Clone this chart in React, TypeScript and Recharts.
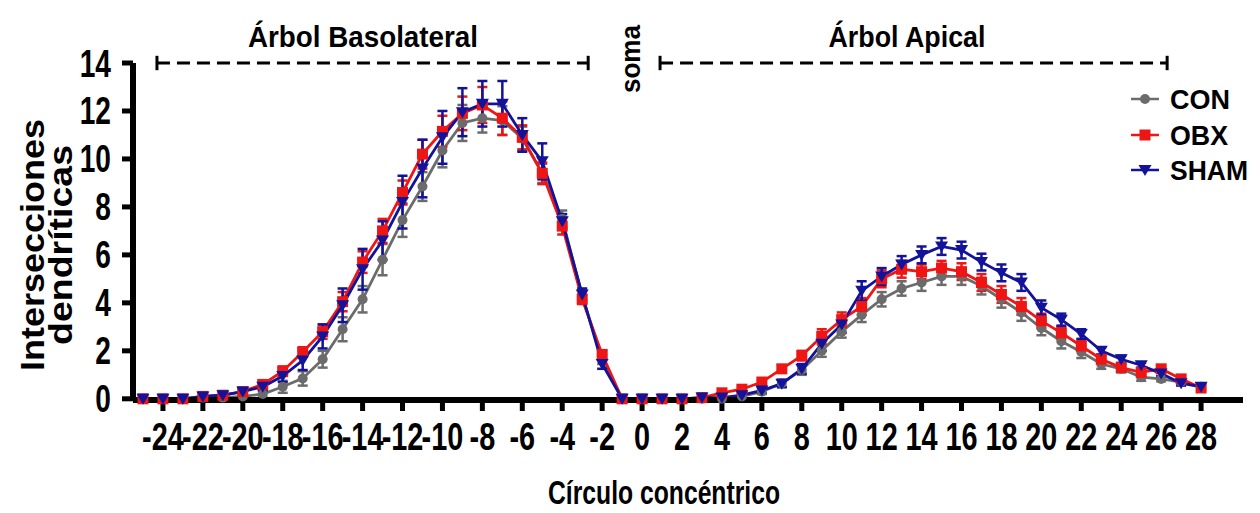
import React from "react";
import { LineChart, Line, XAxis, YAxis, ErrorBar, ReferenceLine } from "recharts";

// concentric circle index (negative = basal tree, positive = apical tree)
const circles = [
  -25, -24, -23, -22, -21, -20, -19, -18, -17, -16, -15, -14, -13, -12, -11, -10, -9, -8, -7, -6, -5, -4, -3, -2, -1,
  0, 1, 2, 3, 4, 5, 6, 7, 8, 9, 10, 11, 12, 13, 14, 15, 16, 17, 18, 19, 20, 21, 22, 23, 24, 25, 26, 27, 28,
];

const con = [
  0, 0, 0, 0.05, 0.05, 0.1, 0.2, 0.5, 0.85, 1.65, 2.9, 4.15, 5.8, 7.45, 8.85, 10.35, 11.5, 11.7, 11.6, 10.85, 9.4, 7.5, 4.3, 1.65, 0,
  0, 0, 0, 0, 0, 0.1, 0.3, 0.65, 1.2, 2.0, 2.8, 3.5, 4.15, 4.6, 4.85, 5.1, 5.1, 4.7, 4.15, 3.6, 2.95, 2.4, 1.95, 1.45, 1.25, 0.9, 0.83, 0.7, 0.5,
];
const conErr = [
  0, 0, 0, 0.05, 0.05, 0.1, 0.15, 0.25, 0.3, 0.35, 0.5, 0.55, 0.65, 0.7, 0.6, 0.7, 0.75, 0.6, 0.6, 0.5, 0.4, 0.35, 0.25, 0.2, 0,
  0, 0, 0, 0, 0.05, 0.05, 0.1, 0.15, 0.2, 0.25, 0.25, 0.3, 0.3, 0.3, 0.35, 0.35, 0.35, 0.35, 0.35, 0.35, 0.3, 0.3, 0.25, 0.2, 0.15, 0.15, 0.1, 0.1, 0.1,
];

const obx = [
  0, 0, 0, 0.1, 0.15, 0.3, 0.6, 1.15, 1.95, 2.8, 4.05, 5.7, 7.0, 8.6, 10.2, 11.15, 11.9, 12.25, 11.7, 10.9, 9.4, 7.2, 4.15, 1.85, 0,
  0, 0, 0, 0.05, 0.25, 0.4, 0.7, 1.25, 1.8, 2.6, 3.3, 3.85, 5.0, 5.4, 5.3, 5.45, 5.3, 4.85, 4.35, 3.85, 3.25, 2.75, 2.2, 1.65, 1.3, 1.1, 1.25, 0.83, 0.45,
];
const obxErr = [
  0, 0, 0, 0.05, 0.05, 0.1, 0.15, 0.2, 0.2, 0.3, 0.4, 0.45, 0.5, 0.5, 0.6, 0.65, 0.7, 0.75, 0.7, 0.5, 0.45, 0.35, 0.2, 0.15, 0,
  0, 0, 0, 0.05, 0.05, 0.1, 0.1, 0.15, 0.2, 0.3, 0.3, 0.35, 0.35, 0.35, 0.3, 0.3, 0.35, 0.35, 0.35, 0.35, 0.3, 0.25, 0.2, 0.15, 0.15, 0.1, 0.1, 0.1, 0.1,
];

const sham = [
  0, 0, 0, 0.1, 0.15, 0.3, 0.5, 0.95, 1.6, 2.6, 3.9, 5.4, 6.6, 8.2, 9.6, 10.9, 11.95, 12.3, 12.3, 11.0, 9.9, 7.4, 4.35, 1.45, 0,
  0, 0, 0, 0.05, 0.05, 0.15, 0.35, 0.63, 1.25, 2.3, 3.1, 4.5, 5.1, 5.6, 6.0, 6.35, 6.2, 5.7, 5.25, 4.85, 3.8, 3.3, 2.7, 2.0, 1.65, 1.4, 1.05, 0.65, 0.5,
];
const shamErr = [
  0, 0, 0, 0.05, 0.05, 0.1, 0.15, 0.25, 0.4, 0.5, 0.7, 0.85, 0.8, 1.1, 1.2, 1.1, 1.0, 0.95, 0.95, 0.7, 0.75, 0.3, 0.25, 0.2, 0,
  0, 0, 0, 0.05, 0.05, 0.1, 0.1, 0.15, 0.2, 0.3, 0.35, 0.4, 0.35, 0.35, 0.35, 0.35, 0.35, 0.35, 0.35, 0.35, 0.3, 0.25, 0.2, 0.15, 0.15, 0.1, 0.1, 0.1, 0.1,
];

const xTicks = [-24, -22, -20, -18, -16, -14, -12, -10, -8, -6, -4, -2, 0, 2, 4, 6, 8, 10, 12, 14, 16, 18, 20, 22, 24, 26, 28];
const yTicks = [0, 2, 4, 6, 8, 10, 12, 14];

// dashed brackets over the two dendritic trees
const brackets = [
  { from: -24.3, to: -2.7 },
  { from: 0.9, to: 26.3 },
];

const GREY = "#6b6b6b";
const RED = "#ee1515";
const BLUE = "#12129a";
const FONT = "'Liberation Sans', Arial, sans-serif";

const data = circles.map((c, i) => ({
  c,
  con: con[i],
  conErr: conErr[i],
  obx: obx[i],
  obxErr: obxErr[i],
  sham: sham[i],
  shamErr: shamErr[i],
}));

const CircleDot = (p: any) =>
  p.cx == null ? null : <circle key={`c-${p.index}`} cx={p.cx} cy={p.cy} r={5} fill={GREY} />;

const SquareDot = (p: any) =>
  p.cx == null ? null : (
    <rect key={`s-${p.index}`} x={p.cx - 5.5} y={p.cy - 5.5} width={11} height={11} fill={RED} />
  );

const TriDot = (p: any) =>
  p.cx == null ? null : (
    <path
      key={`t-${p.index}`}
      d={`M${p.cx - 6.5},${p.cy - 5} L${p.cx + 6.5},${p.cy - 5} L${p.cx},${p.cy + 6} Z`}
      fill={BLUE}
    />
  );

const XTick = ({ x, y, payload }: any) => (
  <g transform={`translate(${x},${y + 37})`}>
    <text transform="scale(0.74,1)" textAnchor="middle" fontSize={39} fontWeight="bold" fontFamily={FONT} fill="#000">
      {payload.value}
    </text>
  </g>
);

const YTick = ({ x, y, payload }: any) => (
  <g transform={`translate(${x - 9},${y + 13.5})`}>
    <text transform="scale(0.74,1)" textAnchor="end" fontSize={38} fontWeight="bold" fontFamily={FONT} fill="#000">
      {payload.value}
    </text>
  </g>
);

const legendItems = [
  { name: "CON", color: GREY, y: 99, len: 60, Dot: CircleDot },
  { name: "OBX", color: RED, y: 135, len: 58, Dot: SquareDot },
  { name: "SHAM", color: BLUE, y: 170, len: 78, Dot: TriDot },
];

export default function App() {
  return (
    <div style={{ position: "absolute", left: 0, top: 0, width: 1260, height: 513, background: "#fff" }}>
      <LineChart width={1260} height={513} data={data} margin={{ top: 63, right: 17, left: 33, bottom: 53 }}>
        <XAxis
          type="number"
          dataKey="c"
          domain={[-25.5, 30.1]}
          ticks={xTicks}
          interval={0}
          allowDataOverflow
          height={60}
          tickSize={11}
          tickLine={{ stroke: "#000", strokeWidth: 5 }}
          axisLine={{ stroke: "#000", strokeWidth: 6 }}
          tick={<XTick />}
        />
        <YAxis
          type="number"
          domain={[0, 14]}
          ticks={yTicks}
          interval={0}
          width={100}
          tickSize={11}
          tickLine={{ stroke: "#000", strokeWidth: 5 }}
          axisLine={{ stroke: "#000", strokeWidth: 6 }}
          tick={<YTick />}
        />
        {brackets.map((b, i) => (
          <ReferenceLine
            key={`b-${i}`}
            segment={[{ x: b.from, y: 14 }, { x: b.to, y: 14 }]}
            stroke="#000"
            strokeWidth={3}
            strokeDasharray="13 7"
            ifOverflow="visible"
          />
        ))}
        {brackets.flatMap((b, i) =>
          [b.from, b.to].map((x, j) => (
            <ReferenceLine
              key={`cap-${i}-${j}`}
              segment={[{ x, y: 13.7 }, { x, y: 14.3 }]}
              stroke="#000"
              strokeWidth={3}
              ifOverflow="visible"
            />
          ))
        )}
        <Line dataKey="con" stroke={GREY} strokeWidth={2.8} dot={CircleDot} isAnimationActive={false}>
          <ErrorBar dataKey="conErr" direction="y" width={5} stroke={GREY} strokeWidth={2.5} />
        </Line>
        <Line dataKey="obx" stroke={RED} strokeWidth={2.8} dot={SquareDot} isAnimationActive={false}>
          <ErrorBar dataKey="obxErr" direction="y" width={5} stroke={RED} strokeWidth={2.5} />
        </Line>
        <Line dataKey="sham" stroke={BLUE} strokeWidth={2.8} dot={TriDot} isAnimationActive={false}>
          <ErrorBar dataKey="shamErr" direction="y" width={5} stroke={BLUE} strokeWidth={2.5} />
        </Line>
      </LineChart>

      <svg
        width={1260}
        height={513}
        style={{ position: "absolute", left: 0, top: 0, pointerEvents: "none" }}
        fontFamily={FONT}
        fontWeight="bold"
      >
        <text x={363} y={47} textAnchor="middle" fontSize={29} textLength={230} lengthAdjust="spacingAndGlyphs">
          Árbol Basolateral
        </text>
        <text x={907} y={47} textAnchor="middle" fontSize={29} textLength={157} lengthAdjust="spacingAndGlyphs">
          Árbol Apical
        </text>
        <text transform="translate(640,59) rotate(-90)" textAnchor="middle" fontSize={28} textLength={68} lengthAdjust="spacingAndGlyphs">
          soma
        </text>
        <text transform="translate(44,245) scale(0.9,1) rotate(-90)" textAnchor="middle" fontSize={36} textLength={252} lengthAdjust="spacingAndGlyphs">
          Intersecciones
        </text>
        <text transform="translate(72,245) scale(0.9,1) rotate(-90)" textAnchor="middle" fontSize={36} textLength={200} lengthAdjust="spacingAndGlyphs">
          dendríticas
        </text>
        <text x={664} y={504} textAnchor="middle" fontSize={34} textLength={232} lengthAdjust="spacingAndGlyphs">
          Círculo concéntrico
        </text>
        {legendItems.map((it) => (
          <g key={it.name}>
            <line x1={1131} x2={1159} y1={it.y} y2={it.y} stroke={it.color} strokeWidth={2.5} />
            {it.Dot({ cx: 1145, cy: it.y, index: it.name })}
            <text x={1170} y={it.y + 10} fontSize={28} textLength={it.len} lengthAdjust="spacingAndGlyphs">
              {it.name}
            </text>
          </g>
        ))}
      </svg>
    </div>
  );
}
